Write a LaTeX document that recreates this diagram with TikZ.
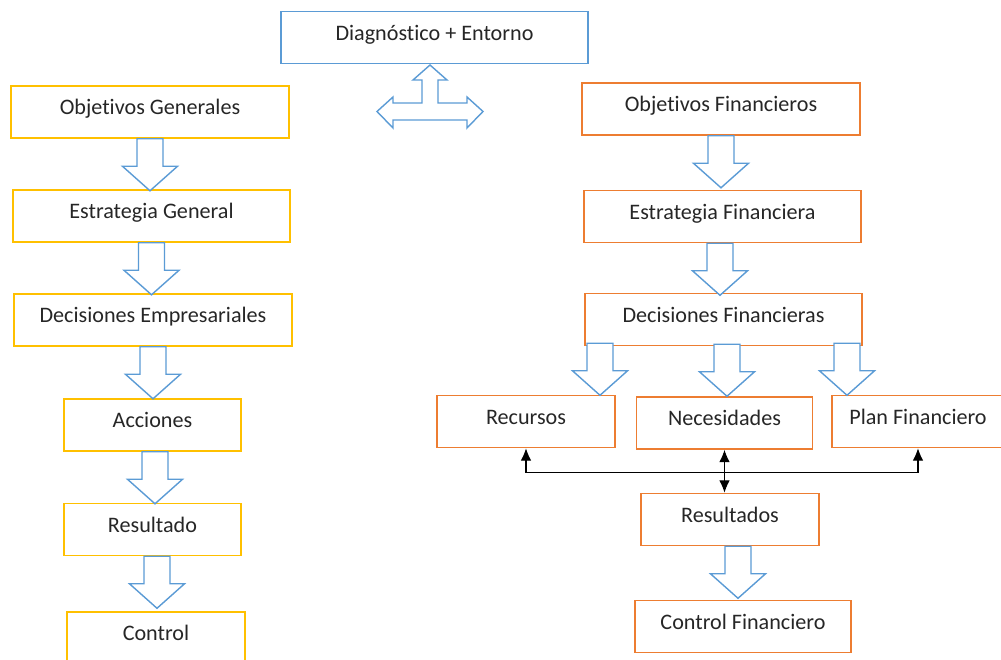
\documentclass[tikz,border=0pt]{standalone}
\usepackage{fontspec}
\setmainfont{Carlito}[Ligatures=NoCommon]
\usetikzlibrary{arrows.meta, calc}

\definecolor{officeblue}{HTML}{5B9BD5}
\definecolor{officegold}{HTML}{FFC000}
\definecolor{officeorange}{HTML}{ED7D31}

\begin{document}
\begin{tikzpicture}[every node/.style={
                font=\fontsize{12.6}{15}\selectfont,
                text=black!85,
                },
            box/.style={
                draw,
                line width=0.9pt,
                inner sep=0pt,
                text height=0.58cm,
                text depth=0.46cm,
                },
            goldbox/.style={box, draw=officegold},
            orangebox/.style={box, draw=officeorange},
            bluebox/.style={box, draw=officeblue},
            blockline/.style={draw=officeblue, fill=white, line width=0.8pt, line join=miter},
            blockdown/.pic={
                \path[blockline] (-0.26,0) -- (0.26,0) -- (0.26,-0.55) -- (0.55,-0.55)
                    -- (0,-1.04) -- (-0.55,-0.55) -- (-0.26,-0.55) -- cycle;
                },
            >={Latex[length=7pt,width=6pt]}]

    \useasboundingbox (0,0) rectangle (20.02,-13.2);

    \node[bluebox, minimum width=6.14cm] (diag) at (8.69,-0.75) {Diagnóstico + Entorno};

    % left column
    \node[goldbox, minimum width=5.56cm] (og) at (3.00,-2.24) {Objetivos Generales};
    \node[goldbox, minimum width=5.54cm] (eg) at (3.03,-4.32) {Estrategia General};
    \node[goldbox, minimum width=5.56cm] (de) at (3.06,-6.40) {Decisiones Empresariales};
    \node[goldbox, minimum width=3.54cm] (acc) at (3.05,-8.50) {Acciones};
    \node[goldbox, minimum width=3.54cm] (res) at (3.05,-10.59) {Resultado};
    \node[goldbox, minimum width=3.56cm] (ctl) at (3.12,-12.76) {Control};

    % right column
    \node[orangebox, minimum width=5.56cm] (of) at (14.42,-2.18) {Objetivos Financieros};
    \node[orangebox, minimum width=5.54cm] (ef) at (14.45,-4.33) {Estrategia Financiera};
    \node[orangebox, minimum width=5.54cm] (df) at (14.47,-6.39) {Decisiones Financieras};
    \node[orangebox, minimum width=3.56cm] (rec) at (10.52,-8.43) {Recursos};
    \node[orangebox, minimum width=3.52cm] (nec) at (14.49,-8.46) {Necesidades};
    \node[orangebox, minimum width=3.44cm] (plan) at (18.36,-8.43) {Plan Financiero};
    \node[orangebox, minimum width=3.56cm] (resf) at (14.60,-10.39) {Resultados};
    \node[orangebox, minimum width=4.32cm] (cf) at (14.86,-12.53) {Control Financiero};

    % block arrows
    \pic at (og.south) {blockdown};
    \pic at (eg.south) {blockdown};
    \pic at (de.south) {blockdown};
    \pic at ([xshift=0.05cm]acc.south) {blockdown};
    \pic at ([xshift=0.09cm]res.south) {blockdown};

    \pic at (of.south) {blockdown};
    \pic at ([xshift=-0.05cm]ef.south) {blockdown};
    \pic at ($(df.south)+(-2.47,0.06)$) {blockdown};
    \pic at ($(df.south)+(0.07,0.04)$) {blockdown};
    \pic at ($(df.south)+(2.47,0.06)$) {blockdown};
    \pic at ([xshift=0.16cm]resf.south) {blockdown};

    \path[blockline] (8.60,-1.30) -- (8.94,-1.60) -- (8.76,-1.60) -- (8.76,-2.06)
        -- (9.34,-2.06) -- (9.34,-1.94) -- (9.66,-2.23) -- (9.34,-2.56) -- (9.34,-2.40)
        -- (7.86,-2.40) -- (7.86,-2.56) -- (7.54,-2.23) -- (7.86,-1.94) -- (7.86,-2.06)
        -- (8.44,-2.06) -- (8.44,-1.60) -- (8.26,-1.60) -- cycle;

    % links
    \coordinate (j) at ($(nec.south)+(0,-0.45)$);
    \draw[<->, line width=0.6pt] (nec.south) -- (nec.south |- resf.north);
    \draw[->, line width=0.6pt] (j) -| (rec.south);
    \draw[->, line width=0.6pt] (j) -| (plan.south);

\end{tikzpicture}
\end{document}
